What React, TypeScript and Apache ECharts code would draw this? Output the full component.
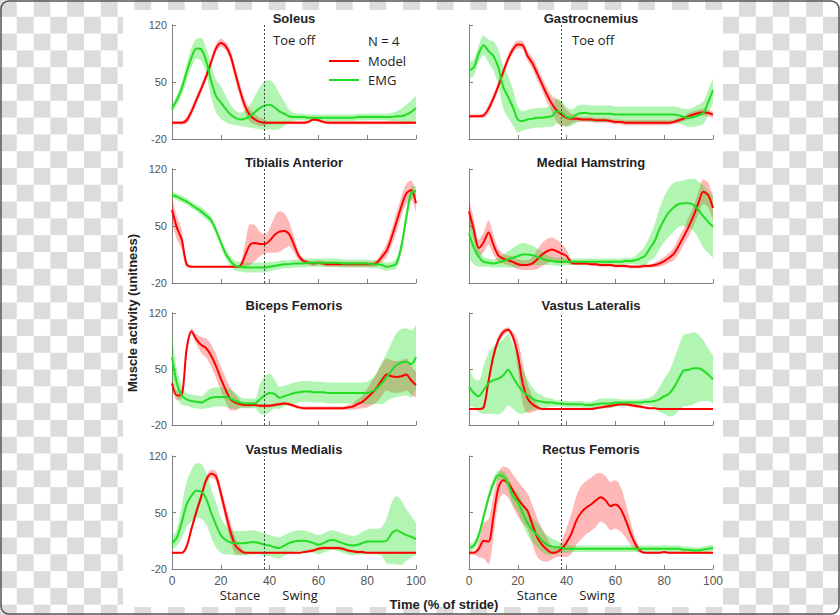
import React, { useEffect, useRef } from 'react';
import * as echarts from 'echarts';

// ---------- data ----------
const STRIDE = [0,2,4,6,8,10,12,14,16,18,20,22,24,26,28,30,32,34,36,38,40,42,44,46,48,50,52,54,56,58,60,62,64,66,68,70,72,74,76,78,80,82,84,86,88,90,92,94,96,98,100];
const X_TICKS = [0, 20, 40, 60, 80, 100];
const Y_TICKS = [-20, 50, 120];
const TOE_OFF = 38;
const MUSCLES = ['Soleus', 'Gastrocnemius', 'Tibialis Anterior', 'Medial Hamstring', 'Biceps Femoris', 'Vastus Lateralis', 'Vastus Medialis', 'Rectus Femoris'];

const solModel = [0,0,0,3,14,28,42,57,74,91, 98,94,82,60,38,20,9,4,1,0, 0,0,0,0,0,0,0,0,1,4, 3,1,0,0,0,0,0,0,0,0, 0,0,0,0,0,0,0,0,0,0, 0];
const solModelSd = [2,2,2,4,5,5,5,5,5,5, 5,5,7,8,8,8,8,6,5,4, 2,2,2,2,2,2,2,2,2,2, 2,2,2,2,2,2,2,2,2,2, 2,2,2,2,2,2,2,2,2,2, 2];
const solEmg = [17,28,42,62,80,91,90,76,52,33, 25,17,10,6,4,5,8,13,18,21, 22,19,14,11,8,7,7,7,6,6, 6,6,6,6,6,6,6,6,7,7, 7,7,7,7,7,7,8,8,10,13, 18];
const solEmgSd = [5,6,8,10,12,12,14,16,20,20, 20,16,12,9,8,10,14,20,26,30, 30,28,22,15,8,5,4,4,4,4, 4,4,4,4,4,4,4,4,4,4, 4,4,4,4,4,5,6,9,12,14, 15];

const gasModel = [8,8,8,9,17,30,45,62,78,90, 96,95,82,73,60,47,34,23,15,10, 6,5,5,4,4,4,3,3,3,2, 1,1,0,0,0,0,0,0,0,0, 0,0,1,3,5,8,10,12,13,12, 10];
const gasModelSd = [2,2,2,3,5,5,5,5,5,5, 5,5,6,7,8,8,9,10,14,14, 10,6,4,3,3,3,3,3,3,3, 3,3,3,3,3,3,3,3,3,3, 3,3,3,3,3,4,4,4,4,4, 4];
const gasEmg = [64,68,85,95,88,82,68,44,32,19, 4,2,4,5,6,6,7,8,14,12, 7,6,10,12,12,11,11,11,11,11, 10,10,10,10,10,10,10,10,10,10, 10,10,10,9,7,6,7,9,12,25, 40];
const gasEmgSd = [10,10,10,12,14,18,22,26,26,22, 16,12,12,12,12,12,12,13,15,15, 12,10,10,10,10,10,10,10,10,10, 10,10,10,10,10,10,10,10,10,10, 10,10,10,10,10,11,12,13,14,15, 15];

const taModel = [70,48,33,3,0,0,0,0,0,0, 0,0,0,0,1,14,27,29,28,28, 32,39,43,44,40,27,13,7,5,4, 5,4,3,3,3,3,3,3,3,3, 3,3,5,12,20,36,55,74,90,94, 78];
const taModelSd = [15,14,12,4,1,1,1,1,1,1, 1,1,1,1,3,15,25,22,15,12, 15,22,25,22,15,10,5,3,3,3, 3,3,3,3,3,3,3,3,3,3, 3,3,4,6,8,10,12,12,12,12, 12];
const taEmg = [88,86,83,80,76,72,68,63,57,45, 30,16,7,1,0,-1,-1,-1,-1,-1, 0,1,2,3,3,4,4,4,5,5, 5,5,5,5,5,4,4,4,4,4, 4,3,3,2,0,1,4,25,60,90, 93];
const taEmgSd = [4,4,4,4,4,4,5,5,5,5, 5,6,6,6,6,6,6,6,6,6, 6,5,5,5,5,5,5,5,5,5, 5,5,5,5,5,5,5,5,5,5, 5,5,5,5,5,5,6,8,8,8, 6];

const mhModel = [68,45,23,30,42,27,14,10,8,6, 3,2,2,4,9,15,19,21,19,16, 13,5,4,4,4,3,3,2,2,2, 1,1,1,0,0,0,1,1,2,4, 7,11,16,26,37,49,62,78,92,88, 72];
const mhModelSd = [15,14,10,12,15,12,8,6,6,6, 6,6,6,8,12,14,15,15,14,12, 8,3,2,2,2,2,2,2,2,2, 2,2,2,2,2,2,2,2,3,4, 5,6,8,10,10,12,12,14,15,15, 15];
const mhEmg = [41,23,12,6,5,4,5,7,9,11, 13,15,15,14,12,10,8,7,6,6, 6,6,6,6,6,6,6,6,6,6, 6,6,7,7,8,10,13,22,31,46, 58,67,73,77,78,78,76,70,62,55, 49];
const mhEmgSd = [30,20,12,6,5,5,6,8,10,12, 14,14,13,12,10,8,6,5,5,5, 4,4,4,4,4,4,4,4,4,4, 4,4,4,4,5,8,12,15,20,25, 28,30,30,28,28,30,32,35,38,38, 38];

const bfModel = [32,17,18,75,97,87,80,76,67,54, 38,24,12,8,6,5,5,5,4,4, 4,5,6,7,6,4,2,1,1,1, 1,1,1,1,1,1,2,3,6,9, 14,20,27,36,43,41,40,41,43,36, 30];
const bfModelSd = [6,6,5,8,4,6,10,12,14,15, 15,15,14,10,4,3,3,2,2,2, 2,2,2,2,2,2,2,2,2,2, 2,2,2,2,2,2,3,4,6,8, 12,15,18,20,20,20,20,20,20,18, 16];
const bfEmg = [65,32,17,12,10,9,8,11,14,15, 15,15,13,10,8,7,7,7,12,17, 20,19,14,16,18,20,21,22,22,21, 21,21,20,20,20,20,20,20,20,20, 20,22,26,32,40,48,55,58,59,56, 65];
const bfEmgSd = [28,18,12,8,8,8,8,10,12,12, 12,12,12,10,7,6,6,6,18,24, 24,18,14,13,13,13,13,13,13,13, 13,13,13,13,13,13,13,13,13,13, 14,16,20,26,30,35,40,42,42,42, 40];

const vlModel = [0,0,0,2,35,66,86,96,99,90, 68,32,13,6,2,0,0,0,0,0, 0,0,0,0,0,0,1,2,3,4, 5,6,6,5,4,3,2,1,1,0, 0,0,0,0,0,0,0,0,0,0, 0];
const vlModelSd = [1,1,1,2,5,5,5,4,3,6, 18,25,18,10,4,1,1,1,1,1, 1,1,1,1,1,1,1,1,2,2, 2,2,2,2,2,2,1,1,1,1, 1,1,1,1,1,1,1,1,1,1, 1];
const vlEmg = [28,20,16,24,32,36,38,42,49,40, 30,22,17,13,10,9,8,8,7,7, 6,6,6,6,5,5,6,7,7,7, 8,8,8,8,8,8,9,9,10,12, 16,19,27,38,48,49,51,51,48,43, 37];
const vlEmgSd = [25,18,20,30,38,42,45,45,45,40, 35,28,20,14,10,8,6,5,4,4, 4,4,4,4,4,4,5,6,6,6, 5,4,4,4,4,4,4,5,8,15, 22,28,35,40,45,45,45,42,38,33, 30];

const vmModel = [0,0,0,8,30,51,70,90,98,95, 74,49,26,9,3,0,0,0,0,0, 0,0,0,0,0,0,0,1,2,3, 5,6,6,6,6,5,3,2,1,1, 0,0,0,0,0,0,0,0,0,0, 0];
const vmModelSd = [1,1,1,4,5,5,5,5,5,6, 8,10,12,10,5,2,1,1,1,1, 1,1,1,1,1,1,1,1,2,2, 2,2,2,2,2,2,2,2,2,2, 1,1,1,1,1,1,1,1,1,1, 1];
const vmEmg = [12,19,38,60,71,77,76,67,50,35, 22,16,13,12,12,12,13,13,12,10, 9,7,6,9,12,14,15,15,14,12, 10,12,15,16,14,12,10,9,10,12, 14,14,14,14,15,24,28,25,22,20, 17];
const vmEmgSd = [8,10,20,28,32,34,34,32,30,28, 22,18,15,15,15,15,15,15,14,14, 13,13,13,13,13,13,13,13,12,12, 12,12,12,12,12,12,12,12,12,14, 15,16,16,18,28,38,42,40,32,26, 20];

const rfModel = [0,0,5,15,14,45,80,90,87,77, 67,59,52,35,19,10,4,0,1,5, 13,24,40,50,56,60,65,69,65,58, 60,55,42,26,12,3,0,0,0,0, 1,0,0,0,0,0,0,0,0,0, 0];
const rfModelSd = [2,2,10,22,28,25,18,17,18,20, 22,22,22,24,24,20,15,8,6,10, 18,25,30,33,33,33,33,30,30,30, 30,28,22,15,8,3,1,1,1,1, 1,1,1,1,1,1,1,1,1,1, 1];
const rfEmg = [6,9,22,45,68,86,96,95,86,70, 63,49,37,28,22,15,10,8,7,6, 5,5,5,5,5,5,5,5,5,5, 5,5,5,5,5,5,5,5,5,5, 5,5,5,5,4,4,3,3,4,5, 6];
const rfEmgSd = [5,5,6,6,6,6,6,6,8,10, 12,14,15,15,15,14,12,10,8,6, 5,4,4,4,4,4,4,4,4,4, 4,4,4,4,4,4,4,4,4,4, 4,4,4,4,4,4,4,4,4,4, 4];

const PANELS = [
  { model: solModel, modelSd: solModelSd, emg: solEmg, emgSd: solEmgSd },
  { model: gasModel, modelSd: gasModelSd, emg: gasEmg, emgSd: gasEmgSd },
  { model: taModel, modelSd: taModelSd, emg: taEmg, emgSd: taEmgSd },
  { model: mhModel, modelSd: mhModelSd, emg: mhEmg, emgSd: mhEmgSd },
  { model: bfModel, modelSd: bfModelSd, emg: bfEmg, emgSd: bfEmgSd },
  { model: vlModel, modelSd: vlModelSd, emg: vlEmg, emgSd: vlEmgSd },
  { model: vmModel, modelSd: vmModelSd, emg: vmEmg, emgSd: vmEmgSd },
  { model: rfModel, modelSd: rfModelSd, emg: rfEmg, emgSd: rfEmgSd },
];

// ---------- layout / style ----------
const COL_LEFT = [172, 469];
const PANEL_W = 244;
const ROW_TOP = [25, 169, 313, 456];
const ROW_H = [114, 114, 112, 113];
const TITLE_Y = [18, 162, 305, 449];
const AXIS_COLOR = '#7f7f7f';
const RED = '#ff0000';
const GREEN = '#22dd22';
const RED_BAND = 'rgba(255,0,0,0.28)';
const GREEN_BAND = 'rgba(0,220,0,0.30)';
const SMOOTH = 0.3;
const TITLE_FONT = 'bold 13px "Liberation Sans", Arial, sans-serif';
const NOTE_FONT = '13px "Open Sans", sans-serif';
const TEXT_COLOR = '#222222';

function txt(text: string, x: number, y: number, font: string, align = 'center', extra: any = {}) {
  return {
    type: 'text', x, y, silent: true, z: 100, ...extra,
    style: { text, font, fill: TEXT_COLOR, textAlign: align, textVerticalAlign: 'middle', align, verticalAlign: 'middle' },
  };
}

function buildOption() {
  const grid: any[] = [];
  const xAxis: any[] = [];
  const yAxis: any[] = [];
  const series: any[] = [];
  const tickStep = STRIDE.indexOf(X_TICKS[1]) - 1; // categories skipped between labelled ticks

  PANELS.forEach((p, i) => {
    const row = Math.floor(i / 2);
    const col = i % 2;
    grid.push({ left: COL_LEFT[col], top: ROW_TOP[row], width: PANEL_W, height: ROW_H[row], containLabel: false, outerBoundsMode: 'none' });
    xAxis.push({
      type: 'category', gridIndex: i, data: STRIDE.map(String), boundaryGap: false,
      axisLine: { show: true, onZero: false, lineStyle: { color: AXIS_COLOR, width: 1 } },
      axisTick: { show: true, inside: true, length: 4, interval: tickStep, lineStyle: { color: AXIS_COLOR } },
      axisLabel: { show: row === 3, interval: tickStep, margin: 6, fontSize: 12, color: '#555555', fontFamily: '"Liberation Sans", Arial, sans-serif', showMinLabel: true, showMaxLabel: true },
      splitLine: { show: false },
    });
    yAxis.push({
      type: 'value', gridIndex: i,
      min: Y_TICKS[0], max: Y_TICKS[Y_TICKS.length - 1], interval: Y_TICKS[1] - Y_TICKS[0],
      axisLine: { show: true, onZero: false, lineStyle: { color: AXIS_COLOR, width: 1 } },
      axisTick: { show: true, inside: true, length: 4, lineStyle: { color: AXIS_COLOR } },
      axisLabel: { show: col === 0, margin: 5, fontSize: 11, color: '#555555', fontFamily: '"Liberation Sans", Arial, sans-serif', showMinLabel: true, showMaxLabel: true },
      splitLine: { show: false },
    });

    const band = (mean: number[], sd: number[], color: string, key: string) => {
      const stack = key + i;
      return [
        {
          type: 'line', xAxisIndex: i, yAxisIndex: i, stack, stackStrategy: 'all', smooth: SMOOTH,
          symbol: 'none', silent: true, lineStyle: { width: 0, opacity: 0 },
          data: mean.map((m, k) => m - sd[k]),
        },
        {
          type: 'line', xAxisIndex: i, yAxisIndex: i, stack, stackStrategy: 'all', smooth: SMOOTH,
          symbol: 'none', silent: true, lineStyle: { width: 0, opacity: 0 },
          areaStyle: { color, opacity: 1 },
          data: sd.map((s) => 2 * s),
        },
      ];
    };
    const line = (name: string, mean: number[], color: string, withMark: boolean) => {
      const s: any = {
        type: 'line', name, xAxisIndex: i, yAxisIndex: i, smooth: SMOOTH, symbol: 'none', silent: true,
        lineStyle: { color, width: 2 },
        data: mean.slice(),
      };
      if (withMark) {
        s.markLine = {
          symbol: ['none', 'none'], silent: true, animation: false,
          label: { show: false },
          lineStyle: { color: '#444444', type: [2, 2], width: 1 },
          data: [{ xAxis: String(TOE_OFF) }],
        };
      }
      return s;
    };

    series.push(...band(p.model, p.modelSd, RED_BAND, 'm'));
    series.push(line('Model', p.model, RED, false));
    series.push(...band(p.emg, p.emgSd, GREEN_BAND, 'e'));
    series.push(line('EMG', p.emg, GREEN, true));
  });

  const graphic: any[] = [
    { type: 'rect', silent: true, z: 100, shape: { x: 1, y: 1, width: 838, height: 613, r: 8 }, style: { fill: 'none', stroke: '#555555', lineWidth: 1.5 } },
  ];
  MUSCLES.forEach((m, i) => {
    const row = Math.floor(i / 2);
    const col = i % 2;
    graphic.push(txt(m, COL_LEFT[col] + PANEL_W / 2, TITLE_Y[row], TITLE_FONT));
  });
  graphic.push(txt('Toe off', 273, 40, NOTE_FONT, 'left'));
  graphic.push(txt('Toe off', 572, 40, NOTE_FONT, 'left'));
  graphic.push(txt('N = 4', 368, 41, NOTE_FONT, 'left'));
  graphic.push({ type: 'line', silent: true, z: 100, shape: { x1: 329, y1: 61, x2: 359, y2: 61 }, style: { stroke: RED, lineWidth: 2 } });
  graphic.push(txt('Model', 368, 61, NOTE_FONT, 'left'));
  graphic.push({ type: 'line', silent: true, z: 100, shape: { x1: 329, y1: 80, x2: 359, y2: 80 }, style: { stroke: GREEN, lineWidth: 2 } });
  graphic.push(txt('EMG', 368, 80, NOTE_FONT, 'left'));
  graphic.push(txt('Stance', 240, 595, NOTE_FONT));
  graphic.push(txt('Swing', 300, 595, NOTE_FONT));
  graphic.push(txt('Stance', 537, 595, NOTE_FONT));
  graphic.push(txt('Swing', 597, 595, NOTE_FONT));
  graphic.push(txt('Time (% of stride)', 444, 604, TITLE_FONT));
  graphic.push(txt('Muscle activity (unitness)', 132, 313, TITLE_FONT, 'center', { rotation: Math.PI / 2 }));

  return { animation: false, backgroundColor: 'transparent', grid, xAxis, yAxis, series, graphic };
}

export default function App() {
  const ref = useRef<HTMLDivElement>(null);
  useEffect(() => {
    if (!ref.current) return;
    const chart = echarts.init(ref.current, null, { renderer: 'svg' });
    chart.setOption(buildOption() as any);
    return () => chart.dispose();
  }, []);
  return (
    <div
      style={{
        position: 'absolute', left: 0, top: 0, width: 840, height: 615, overflow: 'hidden',
        backgroundColor: '#ffffff',
        backgroundImage: 'repeating-conic-gradient(#ffffff 0% 25%, #dcdcdc 0% 50%)',
        backgroundSize: '33.6px 33.6px',
      }}
    >
      <div style={{ position: 'absolute', left: 123, top: 10, width: 600, height: 597, background: '#ffffff' }} />
      <div ref={ref} style={{ position: 'absolute', left: 0, top: 0, width: 840, height: 615 }} />
    </div>
  );
}
